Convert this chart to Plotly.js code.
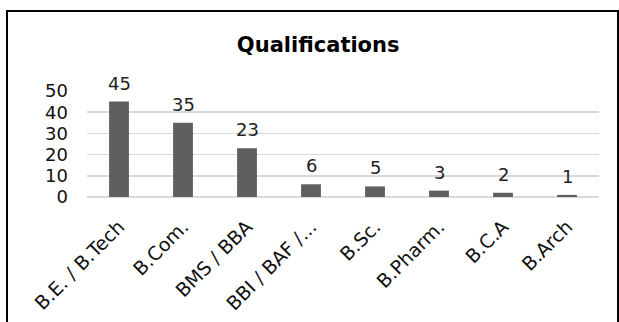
<!DOCTYPE html>
<html><head><meta charset="utf-8">
<script src="https://cdn.plot.ly/plotly-3.0.1.min.js"></script>
<style>
html,body{margin:0;padding:0;background:#fff;overflow:hidden;}
#wrap{position:relative;width:619px;height:322px;overflow:hidden;}
#chart{position:absolute;left:0;top:0;width:619px;height:322px;}
#frame{position:absolute;left:6px;top:10px;width:609px;height:400px;border-left:2px solid #000;border-top:2px solid #000;border-right:2px solid #000;pointer-events:none;}
</style></head>
<body><div id="wrap"><div id="chart"></div><div id="frame"></div></div>
<script>
const categories = ["B.E. / B.Tech","B.Com.","BMS / BBA","BBI / BAF /...","B.Sc.","B.Pharm.","B.C.A","B.Arch"];
const values = [45,35,23,6,5,3,2,1];
const yTicks = [0,10,20,30,40,50];

const FONT = 'DejaVu Sans, Verdana, sans-serif';
const bars = {
  type:'bar', x:categories, y:values,
  marker:{color:'#5f5f5f'}, width:0.31,
  hoverinfo:'none'
};
const annotations = categories.map((c,i)=>({
  x:c, y:values[i], xref:'x', yref:'y', text:String(values[i]),
  showarrow:false, yanchor:'bottom', yshift:6,
  font:{family:FONT, size:18, color:'#222'}
}));
const layout = {
  width:619, height:322,
  margin:{l:87,r:20,t:91,b:125},
  paper_bgcolor:'#fff', plot_bgcolor:'#fff',
  title:{text:'<b>Qualifications</b>', x:0.514, xref:'container', y:0.86, yref:'container', yanchor:'middle',
    font:{family:FONT, size:21, color:'#000'}},
  xaxis:{type:'category', tickangle:-45, showgrid:false, showline:false, zeroline:false, ticks:'',
    ticklabelstandoff:14, range:[-0.5,7.5],
    tickfont:{family:FONT, size:19, color:'#111'}},
  yaxis:{range:[0,50], tickvals:yTicks, showgrid:true, gridcolor:'#d9d9d9', gridwidth:1.5,
    zeroline:true, zerolinecolor:'#d9d9d9', zerolinewidth:1.5, showline:false, ticks:'', ticklabelstandoff:18,
    tickfont:{family:FONT, size:18, color:'#111'}},
  annotations:annotations,
  showlegend:false
};
Plotly.newPlot('chart',[bars],layout,{displayModeBar:false,staticPlot:true});
</script></body></html>
